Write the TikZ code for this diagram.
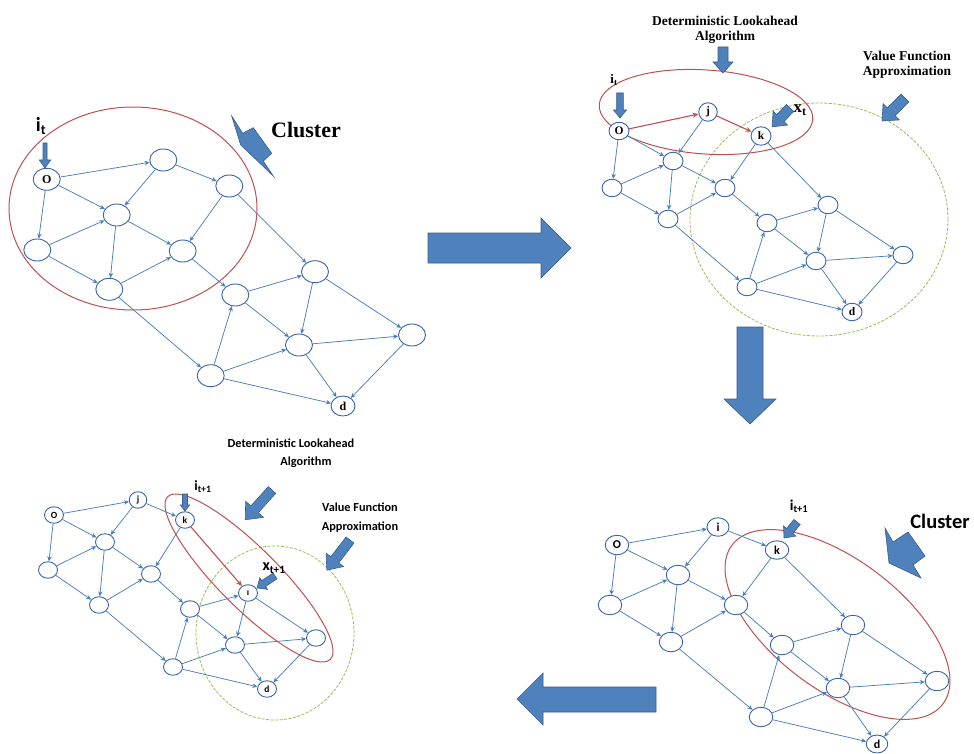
\documentclass[tikz,border=0pt]{standalone}
\usepackage{fontspec}
\setmainfont{Liberation Serif}
\newfontfamily\carl{Carlito}
\usetikzlibrary{arrows.meta,shapes.geometric}
\definecolor{nodeblue}{HTML}{3A64A8}
\definecolor{edgeblue}{HTML}{4A7EBB}
\definecolor{arrfill}{HTML}{4F81BD}
\definecolor{arrline}{HTML}{385D8A}
\definecolor{redc}{HTML}{C0504D}
\definecolor{greenc}{HTML}{9BBB59}
\tikzset{
  nd/.style={ellipse, draw=nodeblue, line width=0.9pt, inner sep=0pt, fill=white},
  ndA/.style={nd, minimum width=27pt, minimum height=22pt, font=\bfseries\fontsize{12}{12}\selectfont},
  ndB/.style={nd, minimum width=20pt, minimum height=17.5pt, font=\bfseries\fontsize{11.5}{12}\selectfont},
  ndC/.style={nd, minimum width=19pt, minimum height=16.5pt, font=\carl\bfseries\fontsize{9.5}{10}\selectfont},
  ndD/.style={nd, minimum width=23.5pt, minimum height=19.5pt, font=\carl\bfseries\fontsize{12}{12}\selectfont},
  ed/.style={draw=edgeblue, line width=0.75pt, -{Stealth[length=5pt,width=4.5pt]}},
  edr/.style={draw=redc, line width=1.1pt, -{Stealth[length=6pt,width=5pt]}},
  blk/.style={fill=arrfill, draw=arrline, line width=0.6pt, line join=miter},
  redell/.style={draw=redc, line width=1pt},
  greenell/.style={draw=greenc, line width=0.8pt, dash pattern=on 3pt off 1.5pt},
  serlbl/.style={inner sep=0pt, font=\bfseries\fontsize{13.5}{15}\selectfont, align=center},
  sanlbl/.style={inner sep=0pt, font=\carl\bfseries\fontsize{12.3}{19}\selectfont, align=center},
}
\newcommand\sarrow[7]{%
  \begin{scope}[shift={(#1,#2)}, rotate=#3]
    \filldraw[blk] (0,-#5) -- (#4-#7,-#5) -- (#4-#7,-#6) -- (#4,0) -- (#4-#7,#6) -- (#4-#7,#5) -- (0,#5) -- cycle;
  \end{scope}}
\newcommand\commonedges[1]{%
  \foreach \s/\t in {O/C,O/D,A/C,B/E,D/C,D/F,C/F,C/E,F/E,F/J,E/G,G/H,G/I,J/G,J/I,J/d,H/I,H/K,I/K,I/d,K/d}
    {\draw[ed] (#1\s) -- (#1\t);}}
\begin{document}
\begin{tikzpicture}[x=1pt,y=-1pt]
\useasboundingbox (0,0) rectangle (974,754);

% ---------- Panel 1 ----------
\draw[redell] (133,208.5) ellipse [x radius=124pt, y radius=101.5pt];
\node[ndA] (p1O) at (46.7,179.3) {O};
\node[ndA] (p1A) at (163.3,160) {};
\node[ndA] (p1B) at (229.3,186) {};
\node[ndA] (p1C) at (116.7,215) {};
\node[ndA] (p1D) at (37.3,250) {};
\node[ndA] (p1E) at (182.7,251) {};
\node[ndA] (p1F) at (109.3,289.3) {};
\node[ndA] (p1G) at (235.3,295) {};
\node[ndA] (p1H) at (315,271.7) {};
\node[ndA] (p1I) at (299,345) {};
\node[ndA] (p1J) at (210.7,375.7) {};
\node[ndA] (p1K) at (412,335) {};
\node[ndA, minimum width=24pt, minimum height=20pt] (p1d) at (343,406) {d};
\commonedges{p1}
\draw[ed] (p1O) -- (p1A);
\draw[ed] (p1A) -- (p1B);
\draw[ed] (p1B) -- (p1H);
\node[inner sep=0pt, font=\carl\bfseries\fontsize{20}{20}\selectfont] (p1it) at (41,126) {i\textsubscript{t}};
\sarrow{45}{143}{-90}{25}{2}{5.7}{8}
\node[inner sep=0pt, font=\bfseries\fontsize{22}{22}\selectfont] (p1cl) at (306,130) {Cluster};
\filldraw[blk] (231.7,116) -- (242.7,133.3) -- (253.3,127.7) -- (271.7,153.3) -- (263.3,161) -- (273.3,176) -- (240.7,145) -- cycle;

% ---------- big arrows ----------
\filldraw[blk] (428,233) -- (541,233) -- (541,218) -- (571,248) -- (541,278) -- (541,263) -- (428,263) -- cycle;
\filldraw[blk] (737,327) -- (763,327) -- (763,399) -- (776,399) -- (750,424) -- (724,399) -- (737,399) -- cycle;
\filldraw[blk] (656,687) -- (543,687) -- (543,673) -- (517,699) -- (543,725) -- (543,712) -- (656,712) -- cycle;

% ---------- Panel 2 ----------
\draw[greenell] (819,219.5) ellipse [x radius=129pt, y radius=116.5pt];
\draw[redell, rotate around={-4:(706,112)}] (706,112) ellipse [x radius=107pt, y radius=42pt];
\node[ndB] (p2O) at (619,131) {O};
\node[ndB, minimum width=18.5pt, minimum height=18.5pt] (p2A) at (708,112) {j};
\node[ndB, minimum height=18.5pt] (p2B) at (761,136) {k};
\node[ndB] (p2C) at (673,161) {};
\node[ndB] (p2D) at (612,188) {};
\node[ndB] (p2E) at (725,188) {};
\node[ndB] (p2F) at (668,219) {};
\node[ndB] (p2G) at (767,223) {};
\node[ndB] (p2H) at (828,205) {};
\node[ndB] (p2I) at (816,261) {};
\node[ndB] (p2J) at (747,287) {};
\node[ndB] (p2K) at (903,255) {};
\node[ndB] (p2d) at (852,312) {d};
\commonedges{p2}
\draw[edr] (p2O) -- (p2A);
\draw[edr] (p2A) -- (p2B);
\draw[ed] (p2B) -- (p2H);
\node[serlbl] (p2alg) at (725,29.5) {Deterministic Lookahead\\Algorithm};
\sarrow{723}{47}{-90}{26}{5}{10}{11}
\node[serlbl] (p2vfa) at (907,64.5) {Value Function\\Approximation};
\sarrow{905}{98}{-135}{32.5}{5.5}{11.5}{13}
\node[inner sep=0pt, font=\bfseries\fontsize{13}{13}\selectfont] (p2it) at (614,80) {i\textsubscript{t}};
\sarrow{620}{93}{-90}{25}{3.3}{6.5}{8}
\node[inner sep=0pt, font=\bfseries\fontsize{17}{17}\selectfont] (p2xt) at (800,110) {x\textsubscript{t}};
\sarrow{790}{108}{-133.5}{26}{5}{10}{12}

% ---------- Panel 3 ----------
\draw[greenell] (275,633) ellipse [x radius=79pt, y radius=87pt];
\draw[redell, rotate around={-45:(249,578)}] (249,578) ellipse [x radius=115pt, y radius=30pt];
\node[ndC] (p3O) at (54,515) {O};
\node[ndC, minimum width=17.5pt] (p3A) at (138,500) {j};
\node[ndC] (p3B) at (185,520) {k};
\node[ndC] (p3C) at (105,542) {};
\node[ndC] (p3D) at (48,570) {};
\node[ndC] (p3E) at (151,574) {};
\node[ndC] (p3F) at (99,605) {};
\node[ndC] (p3G) at (190,609) {};
\node[ndC] (p3H) at (248,593) {ı};
\node[ndC] (p3I) at (235,645) {};
\node[ndC] (p3J) at (173,667) {};
\node[ndC] (p3K) at (316,638) {};
\node[ndC] (p3d) at (267,689) {d};
\commonedges{p3}
\draw[ed] (p3O) -- (p3A);
\draw[ed] (p3A) -- (p3B);
\draw[edr] (p3B) -- (p3H);
\node[sanlbl] (p3alg1) at (291,443) {Deterministic Lookahead};
\node[sanlbl] (p3alg2) at (306,462) {Algorithm};
\sarrow{272}{490}{-132}{40}{5}{12}{14}
\node[sanlbl] (p3vfa) at (360,517.5) {Value Function\\Approximation};
\sarrow{350}{540}{-127.5}{38}{5}{11}{13}
\node[inner sep=0pt, font=\carl\bfseries\fontsize{14}{14}\selectfont] (p3it) at (203,487) {i\textsubscript{t+1}};
\sarrow{185}{494}{-90}{17}{2.5}{4.7}{6}
\node[inner sep=0pt, font=\carl\bfseries\fontsize{16}{16}\selectfont] (p3xt) at (274,568) {x\textsubscript{t+1}};
\sarrow{275}{576}{-146.3}{21.6}{3.5}{7}{8}

% ---------- Panel 4 ----------
\draw[redell, rotate around={-37:(837.5,624.5)}] (837.5,624.5) ellipse [x radius=132pt, y radius=65pt];
\node[ndD] (p4O) at (617,545) {O};
\node[ndD, minimum width=22pt, minimum height=18.5pt] (p4A) at (718,527) {i};
\node[ndD, minimum height=18.5pt] (p4B) at (777,550) {k};
\node[ndD] (p4C) at (678,575) {};
\node[ndD] (p4D) at (610,605) {};
\node[ndD] (p4E) at (736,605) {};
\node[ndD] (p4F) at (671,642) {};
\node[ndD] (p4G) at (782,645) {};
\node[ndD] (p4H) at (853,625) {};
\node[ndD] (p4I) at (838,688) {};
\node[ndD] (p4J) at (761,717) {};
\node[ndD] (p4K) at (937,681) {};
\node[ndD, minimum width=21.5pt, minimum height=18pt] (p4d) at (877,744) {d};
\commonedges{p4}
\draw[ed] (p4O) -- (p4A);
\draw[ed] (p4A) -- (p4B);
\draw[ed] (p4B) -- (p4H);
\node[inner sep=0pt, font=\carl\bfseries\fontsize{15}{15}\selectfont] (p4it) at (799,506) {i\textsubscript{t+1}};
\sarrow{797}{522}{-129}{20.6}{4}{8}{9}
\node[inner sep=0pt, font=\carl\bfseries\fontsize{20.5}{20.5}\selectfont] (p4cl) at (940,521) {Cluster};
\filldraw[blk] (885,528) -- (893,542) -- (908,532) -- (925,556) -- (913,565) -- (921,578) -- (889,563) -- cycle;
\end{tikzpicture}
\end{document}
